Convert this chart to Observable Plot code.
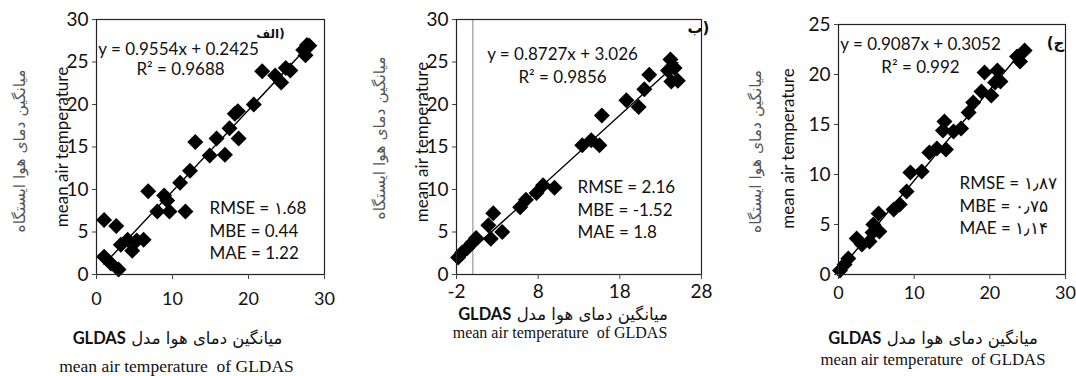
<!DOCTYPE html>
<html><head><meta charset="utf-8">
<script src="https://cdn.jsdelivr.net/npm/d3@7"></script>
<script src="https://cdn.jsdelivr.net/npm/@observablehq/plot@0.6"></script>
<style>
html,body{margin:0;padding:0;background:#fff;}
#wrap{position:relative;width:1076px;height:376px;overflow:hidden;background:#fff;}
#wrap > div{position:absolute;top:0;}
</style></head><body><div id="wrap"></div>
<script>
// ---------- data ----------
// Panel 1 (الف)
const p1X = [1.0,2.6,1.0,1.9,2.9,3.2,4.1,4.7,5.3,6.2,6.8,8.0,8.9,9.3,9.6,11.7,11.0,12.3,13.0,14.9,15.8,16.9,17.5,18.2,18.7,18.6,20.7,21.8,23.5,24.3,24.9,25.5,27.5,28.0,27.2,27.7];
const p1Y = [6.4,5.7,2.1,1.3,0.6,3.5,4.1,2.8,4.0,4.1,9.8,7.4,9.3,8.7,7.4,7.4,10.8,12.2,15.6,14.0,16.0,14.1,17.2,18.9,16.0,19.2,20.0,23.9,23.4,22.6,24.3,24.0,25.8,26.9,26.4,27.0];
// Panel 2 (ب)
const p2X = [-1.8,-1.3,-0.7,-0.1,0.4,1.9,2.5,2.2,3.6,5.8,6.5,7.8,8.6,10.0,13.4,14.5,15.5,15.8,18.8,20.3,21.0,21.6,24.2,24.7,24.3,25.1,23.9];
const p2Y = [2.0,2.6,3.1,3.7,4.3,5.8,7.2,4.2,5.0,7.9,8.8,9.6,10.5,10.2,15.2,15.8,15.2,18.7,20.5,19.7,21.8,23.5,25.3,24.3,22.7,22.8,24.0];
// Panel 3 (ج)
const p3X = [0.2,0.8,1.3,2.4,3.1,4.1,4.5,4.6,5.3,5.4,7.3,8.1,9.0,9.5,11.0,12.0,13.0,14.2,13.8,14.0,15.2,16.2,17.2,17.8,18.9,19.3,20.2,20.7,21.0,21.4,23.6,24.6,24.0];
const p3Y = [0.4,1.0,1.6,3.6,3.0,3.3,4.2,5.0,6.1,4.3,6.5,7.0,8.3,10.2,10.3,12.2,12.6,12.5,14.4,15.3,14.3,14.6,16.2,17.2,18.3,20.2,17.9,19.2,20.4,19.3,21.8,22.4,21.3];

const slopes = [0.9554, 0.8727, 0.9087];
const intercepts = [0.2425, 3.026, 0.3052];
const equations = ["y = 0.9554x + 0.2425", "y = 0.8727x + 3.026", "y = 0.9087x + 0.3052"];
const r2Texts = ["R² = 0.9688", "R² = 0.9856", "R² = 0.992"];
const rmseTexts = ["RMSE = ۱.68", "RMSE = 2.16", "RMSE = ۱٫۸۷"];
const mbeTexts = ["MBE = 0.44", "MBE = -1.52", "MBE = ۰٫۷۵"];
const maeTexts = ["MAE = 1.22", "MAE = 1.8", "MAE = ۱٫۱۴"];
const panelLabels = ["الف)", "ب)", "(ج"];

const xTicks1 = [0, 10, 20, 30];
const xTicks2 = [-2, 8, 18, 28];
const xTicks3 = [0, 10, 20, 30];
const yTicks1 = [0, 5, 10, 15, 20, 25, 30];
const yTicks2 = [0, 5, 10, 15, 20, 25, 30];
const yTicks3 = [0, 5, 10, 15, 20, 25];

const yTitleEn = "mean air temperature";
const yTitleFa = "میانگین دمای هوا ایستگاه";
const xTitleFa = "میانگین دمای هوا مدل";
const xTitleModel = "GLDAS";
const xTitleEn = "mean air temperature  of GLDAS";

// ---------- layout / style ----------
const layouts = [
  {left:0, width:345, ml:96, mr:21, mt:19, xDomain:[0,30], yDomain:[0,30], xTicks:xTicks1, yTicks:yTicks1, xPad:13, xFont:18,
   eq:[82,30], r2:[84,50], lab:[174,15,12], stats:[113,210], yEn:[-34,0], yFa:[-76,4], xFa:[-33,64], xEn:[-34,92,17.5], zero:false},
  {left:345, width:370, ml:111, mr:14, mt:19, xDomain:[-2,28], yDomain:[0,30], xTicks:xTicks2, yTicks:yTicks2, xPad:5, xFont:19,
   eq:[106,35], r2:[106,58], lab:[242,9,15], stats:[121,189], yEn:[-34,-5], yFa:[-76,-9], xFa:[-16,40], xEn:[-19,58,16], zero:true},
  {left:715, width:361, ml:123, mr:11, mt:24, xDomain:[0,30], yDomain:[0,25], xTicks:xTicks3, yTicks:yTicks3, xPad:7, xFont:18,
   eq:[82,20], r2:[82,43], lab:[217,19,15], stats:[121,180], yEn:[-50,-1], yFa:[-82,2], xFa:[-19,64], xEn:[-19,85,16.8], zero:false}
];
const xsAll = [p1X, p2X, p3X];
const ysAll = [p1Y, p2Y, p3Y];

const wrap = document.getElementById("wrap");
layouts.forEach((L, i) => {
  const pts = xsAll[i].map((x, j) => ({x, y: ysAll[i][j]}));
  const ext = d3.extent(xsAll[i]);
  const fit = ext.map(x => ({x, y: slopes[i] * x + intercepts[i]}));
  const one = s => [s];
  const marks = [];
  if (L.zero) marks.push(Plot.ruleX([0], {stroke: "#a6a6a6", strokeWidth: 1.4}));
  marks.push(
    Plot.dot(pts, {x: "x", y: "y", symbol: "diamond2", r: 7.2, fill: "#000", stroke: "none"}),
    Plot.line(fit, {x: "x", y: "y", stroke: "#000", strokeWidth: 1.4}),
    Plot.frame({stroke: "#222", strokeWidth: 1.2}),
    Plot.axisX({ticks: L.xTicks, tickSize: 5, tickPadding: L.xPad, label: null, tickFormat: d => String(d), stroke: "#444"}),
    Plot.axisY({ticks: L.yTicks, tickSize: 4, tickPadding: 4, label: null, tickFormat: d => String(d), stroke: "#444"}),
    Plot.text(one(equations[i]), {text: d => d, frameAnchor: "top-left", dx: L.eq[0], dy: L.eq[1], textAnchor: "middle", lineAnchor: "middle", fontSize: 17, fill: "#111"}),
    Plot.text(one(r2Texts[i]), {text: d => d, frameAnchor: "top-left", dx: L.r2[0], dy: L.r2[1], textAnchor: "middle", lineAnchor: "middle", fontSize: 17, fill: "#111"}),
    Plot.text(one(panelLabels[i]), {text: d => d, frameAnchor: "top-left", dx: L.lab[0], dy: L.lab[1], textAnchor: "middle", lineAnchor: "middle", fontSize: L.lab[2], fontWeight: "bold", fill: "#111", fontFamily: "DejaVu Sans"}),
    Plot.text(one([rmseTexts[i], mbeTexts[i], maeTexts[i]].join("\n")), {text: d => d, frameAnchor: "top-left", dx: L.stats[0], dy: L.stats[1], textAnchor: "start", lineAnchor: "middle", lineHeight: 1.33, fontSize: 17, fill: "#111"}),
    Plot.text(one(yTitleEn), {text: d => d, frameAnchor: "left", dx: L.yEn[0], dy: L.yEn[1], rotate: -90, textAnchor: "middle", lineAnchor: "middle", fontSize: 17, fill: "#111"}),
    Plot.text(one(yTitleFa), {text: d => d, frameAnchor: "left", dx: L.yFa[0], dy: L.yFa[1], rotate: -90, textAnchor: "middle", lineAnchor: "middle", fontSize: 15.5, fill: "#555", fontFamily: "DejaVu Sans"}),
    Plot.text(one(xTitleModel + " " + xTitleFa), {text: d => d, frameAnchor: "bottom", dx: L.xFa[0], dy: L.xFa[1], textAnchor: "middle", lineAnchor: "middle", fontSize: 16.5, fill: "#111", fontFamily: "DejaVu Sans"}),
    Plot.text(one(xTitleEn), {text: d => d, frameAnchor: "bottom", dx: L.xEn[0], dy: L.xEn[1], textAnchor: "middle", lineAnchor: "middle", fontSize: L.xEn[2], fill: "#111", fontFamily: "Liberation Serif"})
  );
  const svg = Plot.plot({
    width: L.width, height: 376,
    marginLeft: L.ml, marginRight: L.mr, marginTop: L.mt, marginBottom: 102,
    x: {domain: L.xDomain}, y: {domain: L.yDomain},
    style: {fontFamily: "Lato, sans-serif", fontSize: "17px", color: "#111", background: "transparent", overflow: "visible"},
    marks
  });
  const s = d3.select(svg);
  // tick label sizes
  s.selectAll('g[aria-label="x-axis tick label"]').attr("font-size", L.xFont).selectAll("text").attr("font-size", L.xFont);
  s.selectAll('g[aria-label="y-axis tick label"]').attr("font-size", 19).selectAll("text").attr("font-size", 19);
  // bold model name inside the Persian axis title
  s.selectAll("text").each(function () {
    if (this.textContent === xTitleModel + " " + xTitleFa) {
      const t = d3.select(this);
      t.text(null);
      t.append("tspan").attr("font-weight", "bold").attr("font-family", "Lato, sans-serif").attr("font-size", 16.5).text(xTitleModel);
      t.append("tspan").text(" " + xTitleFa);
    }
  });
  const div = document.createElement("div");
  div.style.left = L.left + "px";
  div.appendChild(svg);
  wrap.appendChild(div);
});
</script></body></html>
